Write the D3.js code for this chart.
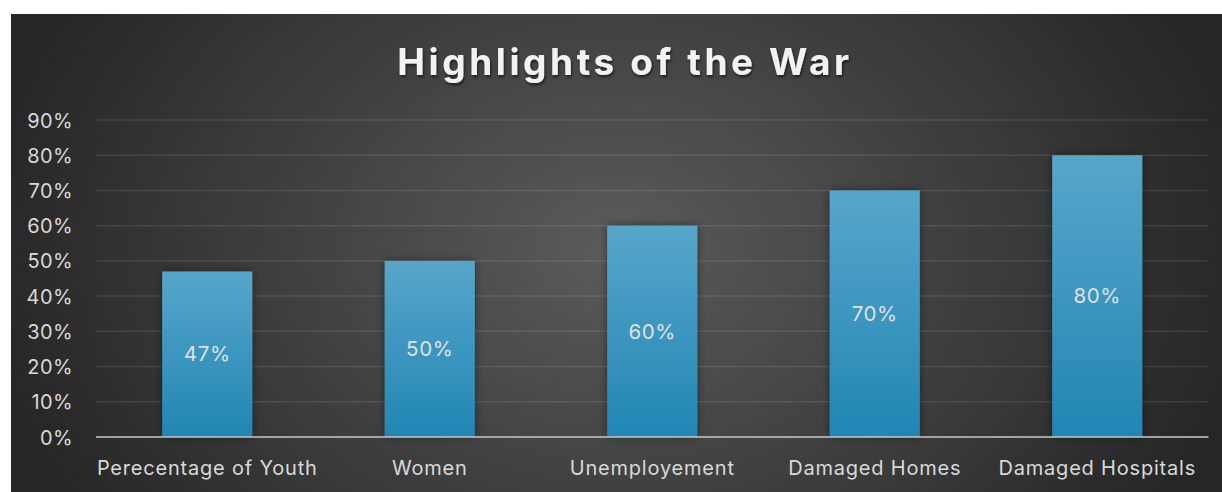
<!DOCTYPE html>
<html>
<head>
<meta charset="utf-8">
<script src="https://cdn.jsdelivr.net/npm/d3@7/dist/d3.min.js"></script>
<style>
html,body{margin:0;padding:0;background:#fff;}
svg{display:block;}
</style>
</head>
<body>
<svg id="chart" width="1222" height="492"></svg>
<script>
const categories = ["Perecentage of Youth","Women","Unemployement","Damaged Homes","Damaged Hospitals"];
const values = [0.47, 0.50, 0.60, 0.70, 0.80];
const yTicks = [0,0.1,0.2,0.3,0.4,0.5,0.6,0.7,0.8,0.9];
const title = "Highlights of the War";

const svg = d3.select("#chart");
const W = 1222, H = 492;
const defs = svg.append("defs");
const FONT = "Inter, 'Open Sans', sans-serif";

const bg = defs.append("radialGradient").attr("id","bg")
  .attr("gradientUnits","userSpaceOnUse")
  .attr("cx",616).attr("cy",250).attr("r",640)
  .attr("gradientTransform","translate(616,250) scale(1,0.75) translate(-616,-250)");
bg.append("stop").attr("offset","0").attr("stop-color","#5b5b5b");
bg.append("stop").attr("offset","1").attr("stop-color","#262626");

const bar = defs.append("linearGradient").attr("id","barg").attr("x1",0).attr("y1",0).attr("x2",0).attr("y2",1);
bar.append("stop").attr("offset","0").attr("stop-color","#57a6ca");
bar.append("stop").attr("offset","1").attr("stop-color","#2186b4");

const sh = defs.append("filter").attr("id","sh").attr("x","-30%").attr("y","-10%").attr("width","160%").attr("height","120%");
sh.append("feDropShadow").attr("dx",0).attr("dy",0).attr("stdDeviation",4).attr("flood-color","#000").attr("flood-opacity",0.45);

const tsh = defs.append("filter").attr("id","tsh").attr("x","-10%").attr("y","-30%").attr("width","120%").attr("height","160%");
tsh.append("feDropShadow").attr("dx",1).attr("dy",2).attr("stdDeviation",1.5).attr("flood-color","#000").attr("flood-opacity",0.6);

svg.append("rect").attr("x",11).attr("y",14).attr("width",W-11).attr("height",H-14).attr("fill","url(#bg)");

const m = {left:96, right:1208.5, top:120, bottom:437};
const x = d3.scaleBand().domain(categories).range([m.left,m.right]).paddingInner(0.595).paddingOuter(0.2975);
const y = d3.scaleLinear().domain([0,0.9]).range([m.bottom,m.top]);

// gridlines
svg.append("g").selectAll("line").data(yTicks.filter(d=>d>0)).join("line")
  .attr("x1",m.left).attr("x2",m.right)
  .attr("y1",d=>y(d)).attr("y2",d=>y(d))
  .attr("stroke","#ffffff").attr("stroke-opacity",0.1).attr("stroke-width",1.5);

// y axis labels
const yAxis = d3.axisLeft(y).tickValues(yTicks).tickFormat(d3.format(".0%")).tickSize(0).tickPadding(0);
const ya = svg.append("g").attr("transform",`translate(73,0)`).call(yAxis);
ya.select(".domain").remove();
ya.selectAll("text").attr("fill","#d9d9d9").attr("font-family",FONT).attr("font-size",20).attr("letter-spacing",0.4).attr("dy","0.35em");

// bars
svg.append("g").selectAll("rect").data(values).join("rect")
  .attr("x",(d,i)=>x(categories[i]))
  .attr("width",x.bandwidth())
  .attr("y",d=>y(d))
  .attr("height",d=>y(0)-y(d))
  .attr("fill","url(#barg)")
  .attr("filter","url(#sh)");

// baseline
svg.append("line").attr("x1",m.left).attr("x2",m.right).attr("y1",y(0)).attr("y2",y(0))
  .attr("stroke","#bfbfbf").attr("stroke-opacity",0.8).attr("stroke-width",2);

// data labels
svg.append("g").selectAll("text").data(values).join("text")
  .attr("x",(d,i)=>x(categories[i])+x.bandwidth()/2)
  .attr("y",d=>(y(d)+y(0))/2)
  .attr("dy","0.35em")
  .attr("text-anchor","middle")
  .attr("fill","#e0e0e0")
  .attr("font-family",FONT)
  .attr("font-size",20.5)
  .attr("letter-spacing",0.6)
  .text(d3.format(".0%"));

// x axis labels
const xAxis = d3.axisBottom(x).tickSize(0).tickPadding(0);
const xa = svg.append("g").attr("transform",`translate(0,${y(0)})`).call(xAxis);
xa.select(".domain").remove();
xa.selectAll("text").attr("fill","#d9d9d9").attr("font-family",FONT).attr("font-size",20).attr("letter-spacing",0.8).attr("dy","0").attr("y",38);

// title
svg.append("text").attr("x",625).attr("y",75).attr("text-anchor","middle")
  .attr("fill","#f2f2f2").attr("font-family",FONT)
  .attr("font-weight",700).attr("font-size",37).attr("letter-spacing",3.6)
  .attr("filter","url(#tsh)")
  .text(title);
</script>
</body>
</html>
